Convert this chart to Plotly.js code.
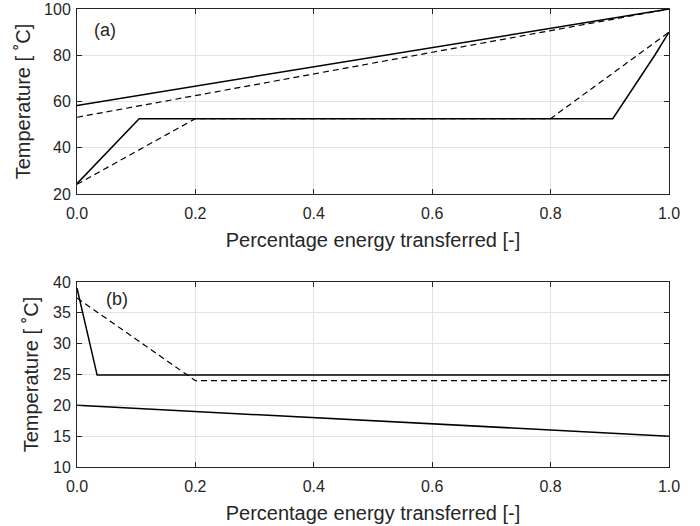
<!DOCTYPE html>
<html>
<head>
<meta charset="utf-8">
<script src="https://cdn.plot.ly/plotly-3.0.1.min.js"></script>
<style>
  html, body { margin: 0; padding: 0; background: #fff; }
  #chart { width: 700px; height: 526px; }
</style>
</head>
<body>
<div id="chart"></div>
<script>
// Panel (a): temperature profiles across the exchanger
const aHotSolidX = [0, 1];
const aHotSolidY = [58.3, 100];
const aHotDashX = [0, 1];
const aHotDashY = [53.2, 100];
const aColdSolidX = [0, 0.105, 0.905, 0.924, 0.976, 1];
const aColdSolidY = [24.5, 52.6, 52.6, 60, 80, 90];
const aColdDashX = [0, 0.2, 0.8, 1];
const aColdDashY = [24.2, 52.6, 52.6, 90];

// Panel (b)
const bHotSolidX = [0, 0.034, 1];
const bHotSolidY = [39, 24.9, 24.9];
const bHotDashX = [0, 0.2, 1];
const bHotDashY = [37.4, 24, 24];
const bColdX = [0, 1];
const bColdY = [20, 15];

const xTicks = [0, 0.2, 0.4, 0.6, 0.8, 1.0];
const xTickText = ['0.0', '0.2', '0.4', '0.6', '0.8', '1.0'];
const aYTicks = [20, 40, 60, 80, 100];
const bYTicks = [10, 15, 20, 25, 30, 35, 40];

const xTitle = 'Percentage energy transferred [-]';
const yTitle = 'Temperature [ ˚C]';

const ink = '#262626';
const solid = { color: '#000', width: 1.5 };
const dashed = { color: '#000', width: 1.2, dash: '6px,4px' };

function line(x, y, style, xa, ya) {
  return { x: x, y: y, type: 'scatter', mode: 'lines', line: style,
           xaxis: xa, yaxis: ya, hoverinfo: 'skip', showlegend: false };
}

const data = [
  line(aHotSolidX, aHotSolidY, solid, 'x', 'y'),
  line(aHotDashX, aHotDashY, dashed, 'x', 'y'),
  line(aColdSolidX, aColdSolidY, solid, 'x', 'y'),
  line(aColdDashX, aColdDashY, dashed, 'x', 'y'),
  line(bHotSolidX, bHotSolidY, solid, 'x2', 'y2'),
  line(bHotDashX, bHotDashY, dashed, 'x2', 'y2'),
  line(bColdX, bColdY, solid, 'x2', 'y2')
];

const font = { family: 'Liberation Sans, Arial, sans-serif', color: ink };

function xAxis(anchor) {
  return {
    anchor: anchor, range: [0, 1], tickvals: xTicks, ticktext: xTickText,
    showline: true, linecolor: ink, linewidth: 1, mirror: 'ticks',
    ticks: 'inside', ticklen: 5, tickcolor: ink, tickwidth: 1,
    ticklabelstandoff: 5,
    showgrid: true, gridcolor: '#e3e3e3', gridwidth: 1, zeroline: false,
    tickfont: { size: 16, family: font.family, color: ink },
    title: { text: xTitle, font: { size: 20, family: font.family, color: ink }, standoff: 11 }
  };
}
function yAxis(anchor, domain, range, ticks) {
  return {
    anchor: anchor, domain: domain, range: range, tickvals: ticks,
    showline: true, linecolor: ink, linewidth: 1, mirror: 'ticks',
    ticks: 'inside', ticklen: 5, tickcolor: ink, tickwidth: 1,
    ticklabelstandoff: 2,
    showgrid: true, gridcolor: '#e3e3e3', gridwidth: 1, zeroline: false,
    tickfont: { size: 16, family: font.family, color: ink },
    title: { text: yTitle, font: { size: 20, family: font.family, color: ink }, standoff: 8 }
  };
}

const layout = {
  width: 700, height: 526,
  margin: { l: 77, r: 31, t: 9, b: 59 },
  paper_bgcolor: '#fff', plot_bgcolor: '#fff',
  font: font,
  xaxis: Object.assign(xAxis('y'), { domain: [0, 1] }),
  yaxis: yAxis('x', [0.596, 1], [20, 100], aYTicks),
  xaxis2: Object.assign(xAxis('y2'), { domain: [0, 1] }),
  yaxis2: yAxis('x2', [0, 0.404], [10, 40], bYTicks),
  annotations: [
    { text: '(a)', xref: 'x', yref: 'y', x: 0.025, y: 91, xanchor: 'left', yanchor: 'middle',
      showarrow: false, font: { size: 18, family: font.family, color: ink } },
    { text: '(b)', xref: 'x2', yref: 'y2', x: 0.046, y: 37.2, xanchor: 'left', yanchor: 'middle',
      showarrow: false, font: { size: 18, family: font.family, color: ink } }
  ]
};

Plotly.newPlot('chart', data, layout, { displayModeBar: false, staticPlot: true });
</script>
</body>
</html>
